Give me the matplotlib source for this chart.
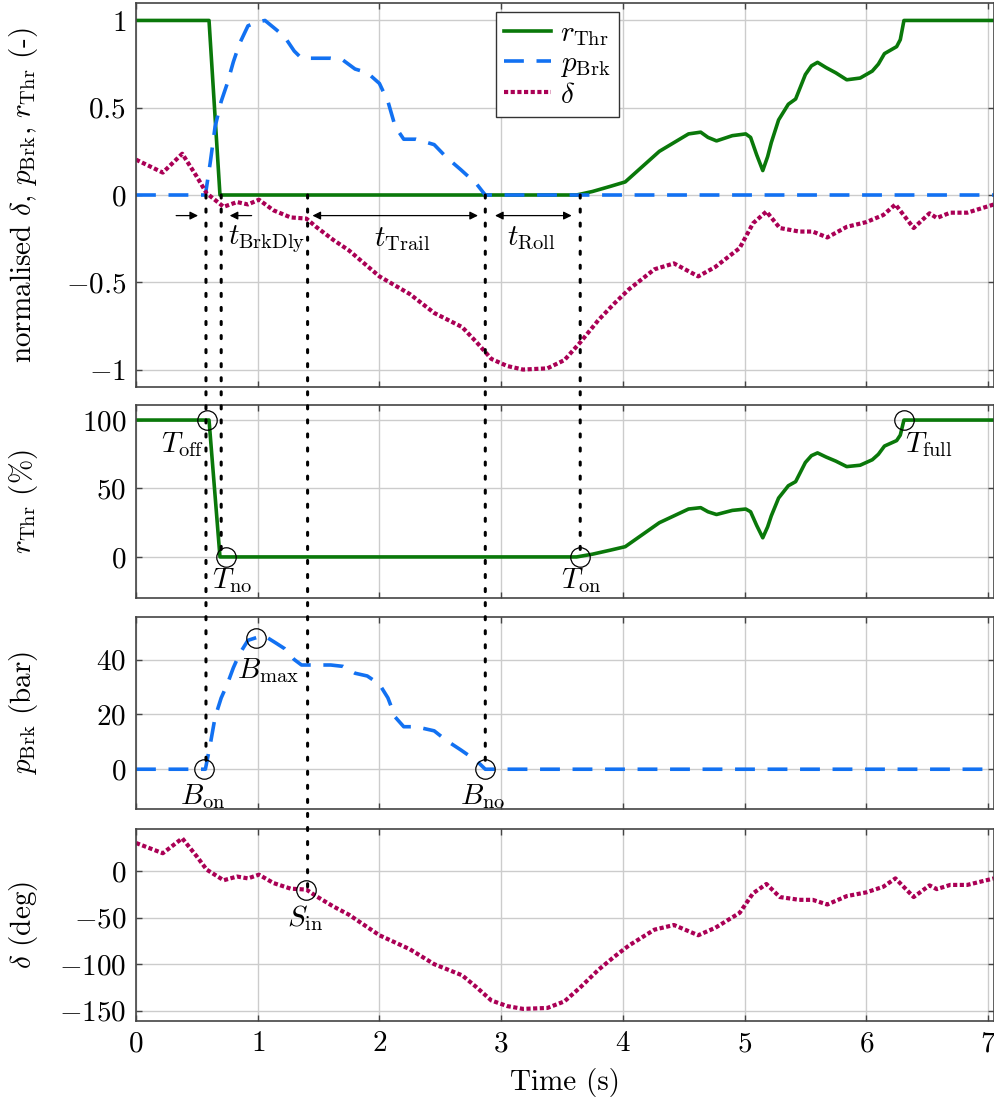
import numpy as np
import matplotlib
matplotlib.use("Agg")
import matplotlib.pyplot as plt
from matplotlib.patches import ConnectionPatch
from matplotlib.ticker import FuncFormatter

plt.rcParams['font.family'] = 'serif'
plt.rcParams['font.serif'] = ['cmr10']
plt.rcParams['mathtext.fontset'] = 'cm'
plt.rcParams['axes.formatter.use_mathtext'] = True
plt.rcParams['font.size'] = 21

# throttle position (%)
t_thr = [0, 0.60, 0.69, 3.62, 3.75, 3.90, 4.02, 4.14, 4.22, 4.30, 4.42, 4.54, 4.64,
         4.70, 4.77, 4.90, 5.01, 5.05, 5.10, 5.15, 5.19, 5.22, 5.28, 5.36, 5.42,
         5.46, 5.50, 5.55, 5.60, 5.67, 5.75, 5.84, 5.95, 6.05, 6.10, 6.15, 6.25,
         6.28, 6.31, 7.05]
r_thr = [100, 100, 0, 0, 2, 5, 7.5, 15, 20, 25, 30, 35, 36,
         33, 31, 34, 35, 33, 23, 14, 22, 30, 43, 52, 55,
         62, 69, 74, 76, 73, 70, 66, 67, 71, 75, 81, 85,
         89, 100, 100]

# brake pressure (bar)
t_brk = [0, 0.57, 0.61, 0.65, 0.70, 0.75, 0.80, 0.85, 0.92, 0.99, 1.06, 1.15, 1.22,
         1.30, 1.36, 1.45, 1.60, 1.70, 1.80, 1.90, 2.00, 2.07, 2.13, 2.20, 2.30,
         2.45, 2.55, 2.67, 2.80, 2.87, 7.05]
p_brk = [0, 0, 9, 19, 26, 31, 37, 42, 47, 48, 48.5, 46, 44,
         40, 38, 38, 38, 37.5, 35, 34, 31, 26, 19, 15.5, 15.5,
         14, 10.5, 7, 3, 0, 0]

# steering angle (deg)
t_str = [0, 0.22, 0.38, 0.50, 0.58, 0.72, 0.83, 0.92, 1.01, 1.13, 1.27, 1.40, 1.48,
         1.62, 1.75, 2.0, 2.25, 2.45, 2.68, 2.80, 2.92, 3.05, 3.18, 3.38, 3.52,
         3.65, 3.80, 3.93, 4.05, 4.26, 4.42, 4.62, 4.76, 4.96, 5.07, 5.18, 5.29,
         5.45, 5.56, 5.68, 5.84, 6.00, 6.14, 6.24, 6.39, 6.52, 6.58, 6.69, 6.83, 7.05]
delta = [30, 19, 35, 15.5, 1.5, -10, -6, -8, -4, -13, -19, -20, -27,
         -38, -47, -69, -84, -100, -112, -125, -139, -145, -148, -147, -140,
         -125, -106, -92, -80, -63, -58, -69, -61, -45, -24, -14, -28,
         -31, -31, -36, -27, -23, -17, -8, -28, -15.5, -19.5, -15, -15, -8]

# event markers
ev_thr_x = [0.58, 0.74, 3.65, 6.31]
ev_thr_y = [100, 0, 0, 100]
ev_thr_lbl = [r'$T_{\mathrm{off}}$', r'$T_{\mathrm{no}}$', r'$T_{\mathrm{on}}$', r'$T_{\mathrm{full}}$']
ev_thr_txt = [(0.38, 82), (0.79, -17), (3.66, -17), (6.51, 82)]

ev_brk_x = [0.56, 0.99, 2.87]
ev_brk_y = [0, 48, 0]
ev_brk_lbl = [r'$B_{\mathrm{on}}$', r'$B_{\mathrm{max}}$', r'$B_{\mathrm{no}}$']
ev_brk_txt = [(0.55, -10), (1.08, 36), (2.85, -10)]

ev_str_x = [1.40]
ev_str_y = [-20]
ev_str_lbl = [r'$S_{\mathrm{in}}$']
ev_str_txt = [(1.39, -50)]

c_thr = '#0a780a'
c_brk = '#1271f2'
c_str = '#aa0055'

fig = plt.figure(figsize=(9.95, 11.04), dpi=100)
L, W = 136 / 995, 858 / 995
ax1 = fig.add_axes([L, 1 - 387 / 1104, W, 384 / 1104])
ax2 = fig.add_axes([L, 1 - 598 / 1104, W, 193 / 1104])
ax3 = fig.add_axes([L, 1 - 809 / 1104, W, 192 / 1104])
ax4 = fig.add_axes([L, 1 - 1021 / 1104, W, 192 / 1104])
axes = [ax1, ax2, ax3, ax4]

kw_thr = dict(color=c_thr, lw=2.6)
kw_brk = dict(color=c_brk, lw=2.6, dashes=(5.5, 3.5))
kw_str = dict(color=c_str, lw=3.0, dashes=(1.0, 0.6))

# top: everything normalised
ax1.plot(t_thr, np.array(r_thr) / 100, label=r'$r_{\mathrm{Thr}}$', **kw_thr)
ax1.plot(t_brk, np.array(p_brk) / max(p_brk), label=r'$p_{\mathrm{Brk}}$', **kw_brk)
ax1.plot(t_str, np.array(delta) / np.abs(delta).max(), label=r'$\delta$', **kw_str)
ax1.set_ylim(-1.1, 1.1)
ax1.set_yticks([-1, -0.5, 0, 0.5, 1])
ax1.yaxis.set_major_formatter(FuncFormatter(lambda v, _: f'${v:g}$'))
ax1.set_ylabel(r'normalised $\delta$, $p_{\mathrm{Brk}}$, $r_{\mathrm{Thr}}$ (-)')
leg = ax1.legend(loc='upper left', bbox_to_anchor=(0.419, 0.977), borderaxespad=0,
                 fancybox=False, framealpha=1, edgecolor='#333333',
                 handlelength=1.6, handletextpad=0.3, labelspacing=0.1, borderpad=0.3)
leg.get_frame().set_linewidth(1.0)

ax2.plot(t_thr, r_thr, **kw_thr)
ax2.set_ylim(-30, 111)
ax2.set_yticks([0, 50, 100])
ax2.set_ylabel(r'$r_{\mathrm{Thr}}$ (%)')

ax3.plot(t_brk, p_brk, **kw_brk)
ax3.set_ylim(-14.5, 55.5)
ax3.set_yticks([0, 20, 40])
ax3.set_ylabel(r'$p_{\mathrm{Brk}}$ (bar)')

ax4.plot(t_str, delta, **kw_str)
ax4.set_ylim(-161, 45)
ax4.set_yticks([-150, -100, -50, 0])
ax4.set_ylabel(r'$\delta$ (deg)')
ax4.set_xlabel('Time (s)', labelpad=8)

for ax in axes:
    ax.set_xlim(0, 7.05)
    ax.set_xticks(range(8))
    ax.grid(True, color='#cccccc', lw=1.0)
    ax.set_axisbelow(True)
    ax.tick_params(direction='in', top=True, right=True, length=4, width=1,
                   color='#444444', pad=7)
    ax.yaxis.set_label_coords(-0.112, 0.5)
    for s in ax.spines.values():
        s.set_color('#444444')
        s.set_linewidth(1.2)
    if ax is not ax4:
        ax.tick_params(labelbottom=False)

# event circles and labels
for ax, xs, ys, lbls, pos in [(ax2, ev_thr_x, ev_thr_y, ev_thr_lbl, ev_thr_txt),
                              (ax3, ev_brk_x, ev_brk_y, ev_brk_lbl, ev_brk_txt),
                              (ax4, ev_str_x, ev_str_y, ev_str_lbl, ev_str_txt)]:
    ax.plot(xs, ys, 'o', ms=14, mfc='none', mec='black', mew=0.9, zorder=5)
    for lbl, (tx, ty) in zip(lbls, pos):
        ax.text(tx, ty, lbl, ha='center', va='center')

# vertical guide lines from the top panel down to each event
guides = [(0.575, ax3, 0), (0.70, ax2, 0), (1.41, ax4, -20), (2.87, ax3, 0), (3.65, ax2, 0)]
for gx, gax, gy in guides:
    con = ConnectionPatch(xyA=(gx, 0), coordsA=ax1.transData,
                          xyB=(gx, gy), coordsB=gax.transData,
                          color='black', lw=2.2, linestyle=(0, (1, 3.6)), zorder=6)
    fig.add_artist(con)

# duration arrows
ya = -0.118
arr = dict(color='black', lw=0.9, shrinkA=0, shrinkB=0)
ax1.annotate('', xy=(0.51, ya), xytext=(0.33, ya),
             arrowprops=dict(arrowstyle='-|>', mutation_scale=12, **arr))
ax1.annotate('', xy=(0.77, ya), xytext=(0.95, ya),
             arrowprops=dict(arrowstyle='-|>', mutation_scale=12, **arr))
ax1.annotate('', xy=(2.81, ya), xytext=(1.45, ya),
             arrowprops=dict(arrowstyle='<|-|>', mutation_scale=12, **arr))
ax1.annotate('', xy=(3.58, ya), xytext=(2.95, ya),
             arrowprops=dict(arrowstyle='<|-|>', mutation_scale=12, **arr))
ax1.text(1.07, -0.25, r'$t_{\mathrm{BrkDly}}$', ha='center', va='center')
ax1.text(2.19, -0.25, r'$t_{\mathrm{Trail}}$', ha='center', va='center')
ax1.text(3.25, -0.25, r'$t_{\mathrm{Roll}}$', ha='center', va='center')

fig.savefig('out.png', dpi=100)
